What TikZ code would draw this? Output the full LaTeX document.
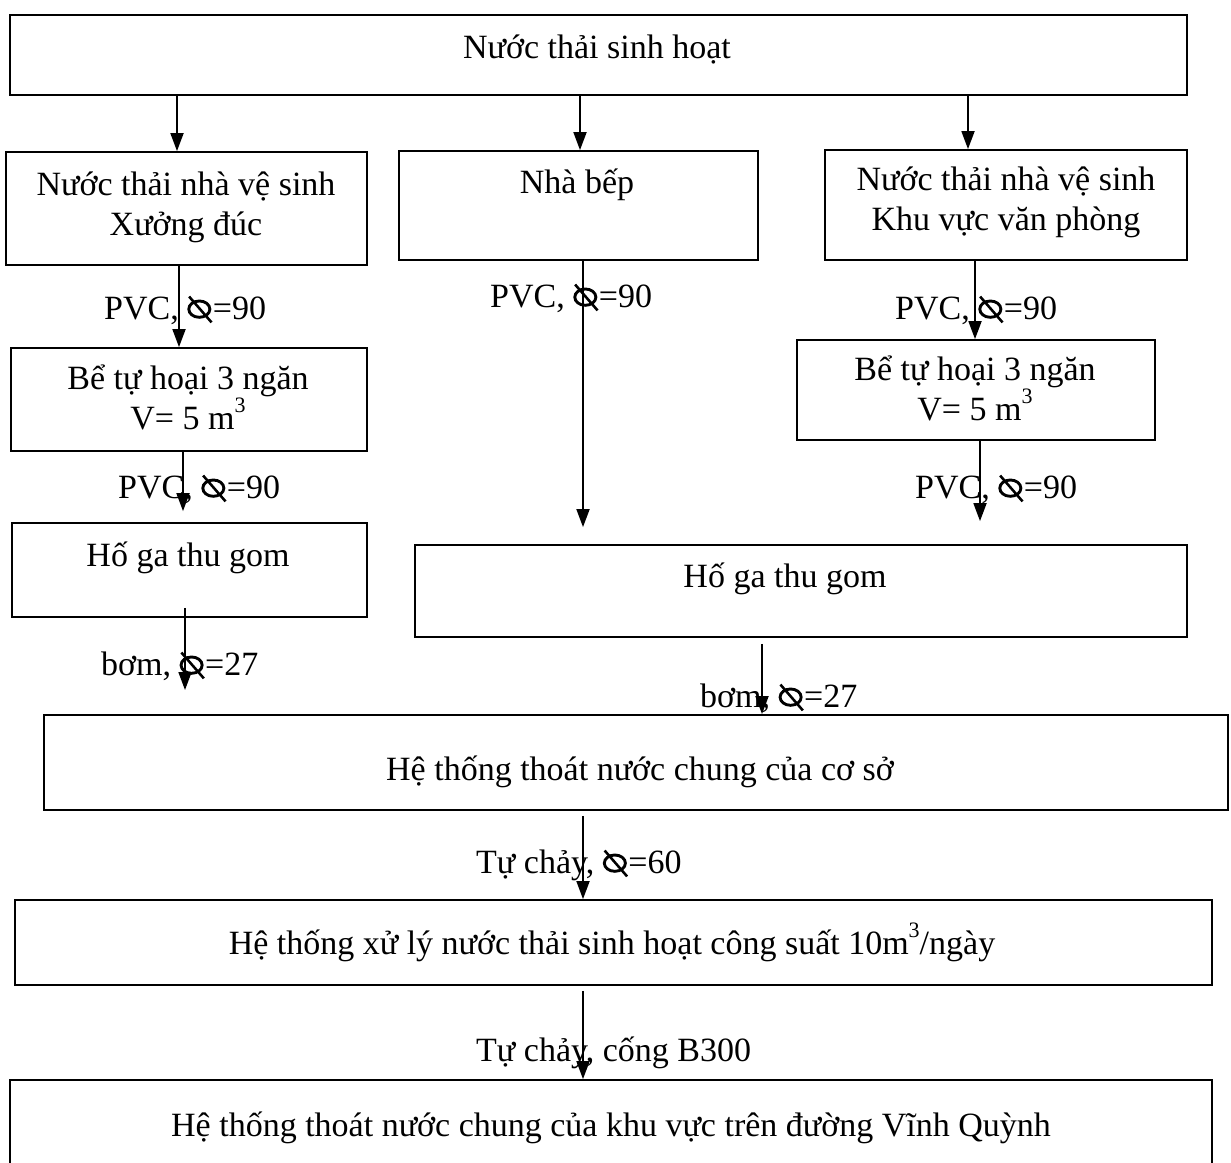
\documentclass[tikz,border=0pt]{standalone}
\usepackage{fontspec}
\setmainfont{Liberation Serif}
\usetikzlibrary{arrows.meta,fit}
\newcommand{\dmsym}{\tikz[baseline=0pt]{\draw[line width=0.085em] (0.36em,0.29em) ellipse [x radius=0.31em, y radius=0.24em]; \draw[line width=0.075em] (0.06em,0.66em) -- (0.72em,-0.1em);}}
\newcommand{\cubed}{\raisebox{0.5em}{\fontsize{22}{22}\selectfont 3}}
\begin{document}
\begin{tikzpicture}[x=1pt,y=-1pt,
 box/.style={draw, line width=1.8pt, inner sep=0pt},
 txt/.style={font=\fontsize{34}{40}\selectfont, align=center, inner sep=0pt},
 lbl/.style={font=\fontsize{34}{40}\selectfont, inner sep=0pt, anchor=base west},
 arr/.style={line width=1.8pt, -{Triangle[length=18pt,width=13pt]}}]
\useasboundingbox (0,0) rectangle (1231,1162);
% boxes
\node[box, fit={(10,15)(1187,95)}] (top) {};
\node[box, fit={(6,152)(367,265)}] (A) {};
\node[box, fit={(399,151)(758,260)}] (B) {};
\node[box, fit={(825,150)(1187,260)}] (C) {};
\node[box, fit={(11,348)(367,451)}] (D) {};
\node[box, fit={(797,340)(1155,440)}] (G) {};
\node[box, fit={(12,523)(367,617)}] (E) {};
\node[box, fit={(415,545)(1187,637)}] (H) {};
\node[box, fit={(44,715)(1228,810)}] (F) {};
\node[box, fit={(15,900)(1212,985)}] (I) {};
\node[box, fit={(10,1080)(1212,1175)}] (J) {};
% texts
\node[txt] (ttop) at (597,49) {Nước thải sinh hoạt};
\node[txt] (tA) at (186,207) {Nước thải nhà vệ sinh\\Xưởng đúc};
\node[txt] (tB) at (577,185) {Nhà bếp};
\node[txt] (tC) at (1006,202) {Nước thải nhà vệ sinh\\Khu vực văn phòng};
\node[txt] (tD) at (188,397) {Bể tự hoại 3 ngăn\\V= 5 m\cubed};
\node[txt] (tG) at (975,388) {Bể tự hoại 3 ngăn\\V= 5 m\cubed};
\node[txt] (tE) at (188,558) {Hố ga thu gom};
\node[txt] (tH) at (785,579) {Hố ga thu gom};
\node[txt] (tF) at (640,772) {Hệ thống thoát nước chung của cơ sở};
\node[txt] (tI) at (612,942) {Hệ thống xử lý nước thải sinh hoạt công suất 10m\cubed/ngày};
\node[txt] (tJ) at (611,1128) {Hệ thống thoát nước chung của khu vực trên đường Vĩnh Quỳnh};
% column coordinates
\coordinate (xa1) at (177,0);
\coordinate (xa2) at (580,0);
\coordinate (xa3) at (968,0);
\coordinate (xb1) at (179,0);
\coordinate (xb2) at (183,0);
\coordinate (xb3) at (185,0);
\coordinate (xc) at (583,0);
\coordinate (xd1) at (975,0);
\coordinate (xd2) at (980,0);
\coordinate (xe) at (762,0);
\coordinate (eEnd) at (185,690);
% arrows
\draw[arr] (top.south -| xa1) -- (A.north -| xa1);
\draw[arr] (top.south -| xa2) -- (B.north -| xa2);
\draw[arr] (top.south -| xa3) -- (C.north -| xa3);
\draw[arr] (A.south -| xb1) -- (D.north -| xb1);
\draw[arr, shorten >=11pt] (D.south -| xb2) -- (E.north -| xb2);
\draw[arr, shorten <=-10pt] (E.south -| xb3) -- (eEnd);
\draw[arr, shorten >=17pt] (B.south -| xc) -- (H.north -| xc);
\draw[arr] (C.south -| xd1) -- (G.north -| xd1);
\draw[arr, shorten >=23pt] (G.south -| xd2) -- (H.north -| xd2);
\draw[arr, shorten <=6pt] (H.south -| xe) -- (F.north -| xe);
\draw[arr, shorten <=5pt] (F.south -| xc) -- (I.north -| xc);
\draw[arr, shorten <=5pt] (I.south -| xc) -- (J.north -| xc);
% labels
\node[lbl] (l1) at (104,319) {PVC, \dmsym=90};
\node[lbl] (l2) at (118,498) {PVC, \dmsym=90};
\node[lbl] (l3) at (101,675) {bơm, \dmsym=27};
\node[lbl] (l4) at (490,307) {PVC, \dmsym=90};
\node[lbl] (l5) at (895,319) {PVC, \dmsym=90};
\node[lbl] (l6) at (915,498) {PVC, \dmsym=90};
\node[lbl] (l7) at (700,707) {bơm, \dmsym=27};
\node[lbl] (l8) at (476,873) {Tự chảy, \dmsym=60};
\node[lbl] (l9) at (476,1061) {Tự chảy, cống B300};
\end{tikzpicture}
\end{document}
